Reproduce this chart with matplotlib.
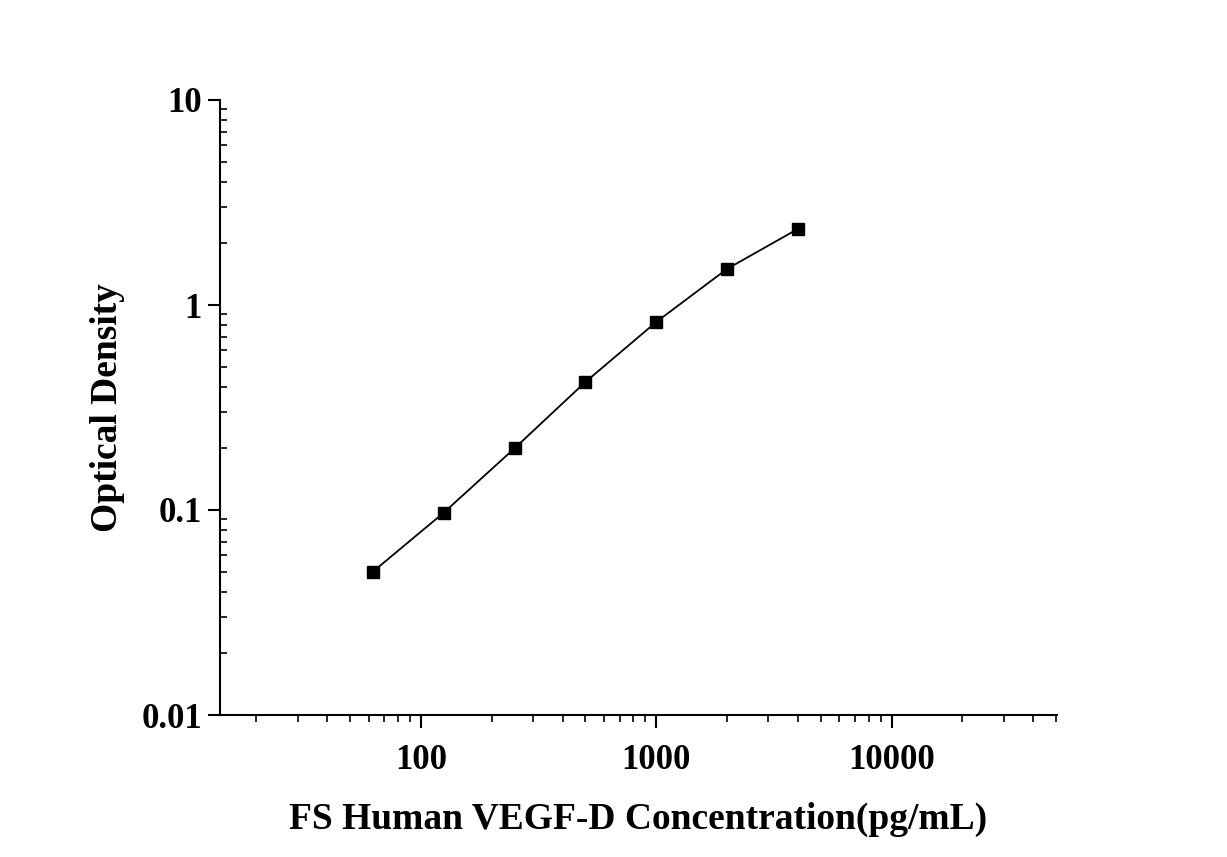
import matplotlib
matplotlib.use("Agg")
import matplotlib.pyplot as plt
from matplotlib.ticker import FixedLocator, FixedFormatter, LogLocator, NullFormatter

conc = [62.5, 125, 250, 500, 1000, 2000, 4000]
od = [0.050, 0.097, 0.200, 0.421, 0.826, 1.50, 2.35]
xticks = [100, 1000, 10000]
xlabels = ["100", "1000", "10000"]
yticks = [0.01, 0.1, 1, 10]
ylabels = ["0.01", "0.1", "1", "10"]

plt.rcParams['font.family'] = ['Liberation Serif', 'DejaVu Serif']
plt.rcParams['font.weight'] = 'bold'

fig = plt.figure(figsize=(12.27, 8.57), dpi=100)
ax = fig.add_axes([220/1227, 1-715/857, (1057-220)/1227, (715-100)/857])
ax.plot(conc, od, color='black', lw=1.3, marker='s', ms=9, mfc='black', mec='black')
ax.set_xscale('log')
ax.set_yscale('log')
ax.set_xlim(14, 50500)
ax.set_ylim(0.01, 10)
ax.spines['top'].set_visible(False)
ax.spines['right'].set_visible(False)
for s in ('left', 'bottom'):
    ax.spines[s].set_linewidth(1.5)

ax.xaxis.set_major_locator(FixedLocator(xticks))
ax.xaxis.set_major_formatter(FixedFormatter(xlabels))
ax.yaxis.set_major_locator(FixedLocator(yticks))
ax.yaxis.set_major_formatter(FixedFormatter(ylabels))
ax.xaxis.set_minor_locator(LogLocator(base=10, subs=range(2, 10), numticks=20))
ax.yaxis.set_minor_locator(LogLocator(base=10, subs=range(2, 10), numticks=20))
ax.xaxis.set_minor_formatter(NullFormatter())
ax.yaxis.set_minor_formatter(NullFormatter())
ax.tick_params(which='major', direction='out', length=9, width=1.5, labelsize=25)
ax.tick_params(axis='x', which='major', pad=12)
ax.tick_params(axis='y', which='major', pad=4)
ax.tick_params(axis='x', which='minor', direction='out', length=5, width=1.2)
ax.tick_params(axis='y', which='minor', direction='in', length=5, width=1.2)

ax.set_xlabel('FS Human VEGF-D Concentration(pg/mL)', fontsize=27, fontweight='bold', labelpad=18)
ax.set_ylabel('Optical Density', fontsize=27, fontweight='bold', labelpad=12)

fig.savefig('out.png', dpi=100)
